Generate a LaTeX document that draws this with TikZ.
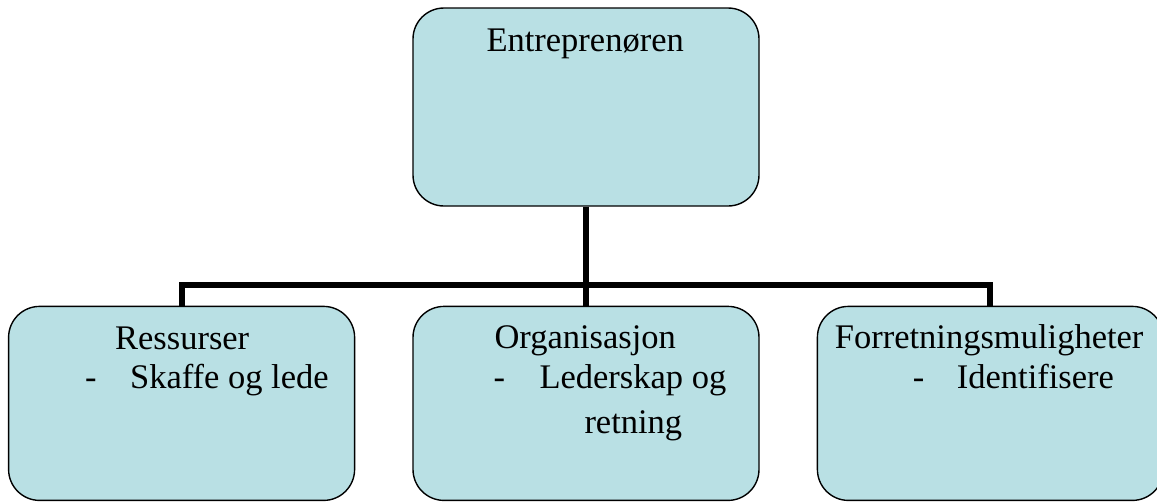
\documentclass[tikz,border=0pt]{standalone}
\usepackage{fontspec}
\setmainfont{Liberation Serif}
\usepackage{xcolor}
\usetikzlibrary{positioning}
\definecolor{BoxAqua}{HTML}{B9E0E4}

\begin{document}
\begin{tikzpicture}[
    x=1pt, y=1pt,
    node distance=99pt and 57pt,
    every node/.style={font=\fontsize{34.5}{40}\selectfont},
    box/.style={rectangle, rounded corners=31pt, draw=black, fill=BoxAqua, line width=1.4pt, minimum width=346pt, minimum height=196pt, inner sep=0pt},
    txt/.style={anchor=base west, inner sep=0pt},
    conn/.style={line width=6pt}
]
\useasboundingbox (0,0) rectangle (1157,-501);

% Boxes
\node[box, minimum height=198pt] (top) at (586,-107) {};
\node[box, below=of top, minimum height=194pt] (org) {};
\node[box, left=of org, minimum height=194pt] (res) {};
\node[box, right=of org, minimum height=194pt] (frm) {};

% Texts
\node[txt] (toptxt) at ([xshift=74pt, yshift=-44pt]top.north west) {Entreprenøren};

\node[txt] (restxt) at ([xshift=107pt, yshift=-44pt]res.north west) {Ressurser};
\node[txt] (resdash) at ([xshift=77pt, yshift=-83pt]res.north west) {-};
\node[txt] (resitem) at ([xshift=122pt, yshift=-83pt]res.north west) {Skaffe og lede};

\node[txt] (orgtxt) at ([xshift=82pt, yshift=-43pt]org.north west) {Organisasjon};
\node[txt] (orgdash) at ([xshift=81pt, yshift=-83pt]org.north west) {-};
\node[txt] (orgitem) at ([xshift=127pt, yshift=-83pt]org.north west) {Lederskap og};
\node[txt] (orgitemb) at ([xshift=172pt, yshift=-128pt]org.north west) {retning};

\node[txt] (frmtxt) at ([xshift=18pt, yshift=-43pt]frm.north west) {Forretningsmuligheter};
\node[txt] (frmdash) at ([xshift=96pt, yshift=-83pt]frm.north west) {-};
\node[txt] (frmitem) at ([xshift=140pt, yshift=-83pt]frm.north west) {Identifisere};

% Connectors
\coordinate (fork) at ([yshift=-78pt]top.south);
\draw[conn] (top.south) -- (org.north);
\draw[conn] (res.north) |- (fork) -| (frm.north);

\end{tikzpicture}
\end{document}
